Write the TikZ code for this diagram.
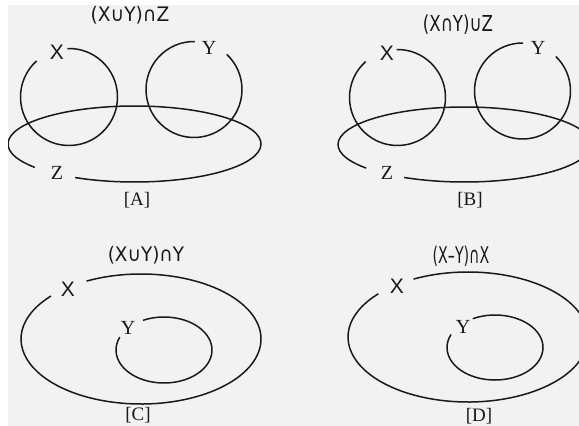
\documentclass[tikz,border=0pt]{standalone}
\usepackage{fontspec}
\setmainfont{Liberation Serif}
\newfontfamily\ttlfont{DejaVu Sans}
\newfontfamily\lblsans{Liberation Sans}
\begin{document}
\begin{tikzpicture}[x=1pt,y=-1pt,
  curve/.style={line width=1.5pt, draw=black!90},
  ttl/.style={font=\ttlfont\fontsize{20}{20}\selectfont, inner sep=0pt, text=black!90},
  lsans/.style={font=\lblsans\fontsize{21}{21}\selectfont, inner sep=0pt, text=black!90},
  lserif/.style={font=\fontsize{20}{20}\selectfont, inner sep=0pt, text=black!90},
  caplbl/.style={font=\fontsize{19}{19}\selectfont, inner sep=0pt, text=black!90}]
\useasboundingbox (0,0) rectangle (579,426);
\fill[white] (0,0) rectangle (579,426);
\fill[black!5] (8,5) rectangle (579,426);
\begin{scope}
\clip (8,5) rectangle (579,426);
% Panel A
\draw[curve] (69,97) ++(-92:48.5) arc[start angle=-92, end angle=228, radius=48.5];
\draw[curve] (194,89.5) ++(-47:48) arc[start angle=-47, end angle=271, radius=48];
\draw[curve] (134.5,144) ++(142:126.5 and 38) arc[start angle=142, end angle=478, x radius=126.5, y radius=38];
% Panel B
\draw[curve] (397.5,97.5) ++(-91:48) arc[start angle=-91, end angle=228.5, radius=48];
\draw[curve] (522.5,91) ++(-46:48) arc[start angle=-46, end angle=270.6, radius=48];
\draw[curve] (464.5,144.5) ++(141:126.5 and 37.5) arc[start angle=141, end angle=478.5, x radius=126.5, y radius=37.5];
% Panel C
\draw[curve] (141,339) ++(-117:120 and 65) arc[start angle=-117, end angle=221.4, x radius=120, y radius=65];
\draw[curve] (164,350) ++(-116:48 and 33) arc[start angle=-116, end angle=203, x radius=48, y radius=33];
% Panel D
\draw[curve] (468,337) ++(-117:120 and 65) arc[start angle=-117, end angle=221.7, x radius=120, y radius=65];
\draw[curve] (495,347.5) ++(-117.6:48 and 32.5) arc[start angle=-117.6, end angle=203.7, x radius=48, y radius=32.5];
\end{scope}
% Titles
\node[ttl] (tA) at (130,15.5) {\scalebox{0.93}[1]{(X∪Y)∩Z}};
\node[ttl] (tB) at (458,25) {\scalebox{0.83}[1.1]{(X∩Y)∪Z}};
\node[ttl] (tC) at (146,255) {\scalebox{0.92}[1]{(X∪Y)∩Y}};
\node[ttl] (tD) at (461,256.5) {\scalebox{0.71}[1.15]{(X–Y)∩X}};
% Labels
\node[lsans] (xA) at (57,52) {X};
\node[lserif] (yA) at (209,48) {Y};
\node[lserif] (zA) at (57,173) {Z};
\node[caplbl] (cA) at (137,200) {[A]};
\node[lsans] (xB) at (387,53) {X};
\node[lserif] (yB) at (538,48) {Y};
\node[lserif] (zB) at (387,173) {Z};
\node[caplbl] (cB) at (470,200) {[B]};
\node[lsans] (xC) at (68,289) {X};
\node[lserif] (yC) at (128,328) {Y};
\node[caplbl] (cC) at (138,415) {[C]};
\node[lsans] (xD) at (397,286) {X};
\node[lserif] (yD) at (463,327) {Y};
\node[caplbl] (cD) at (479,416) {[D]};
\end{tikzpicture}
\end{document}
